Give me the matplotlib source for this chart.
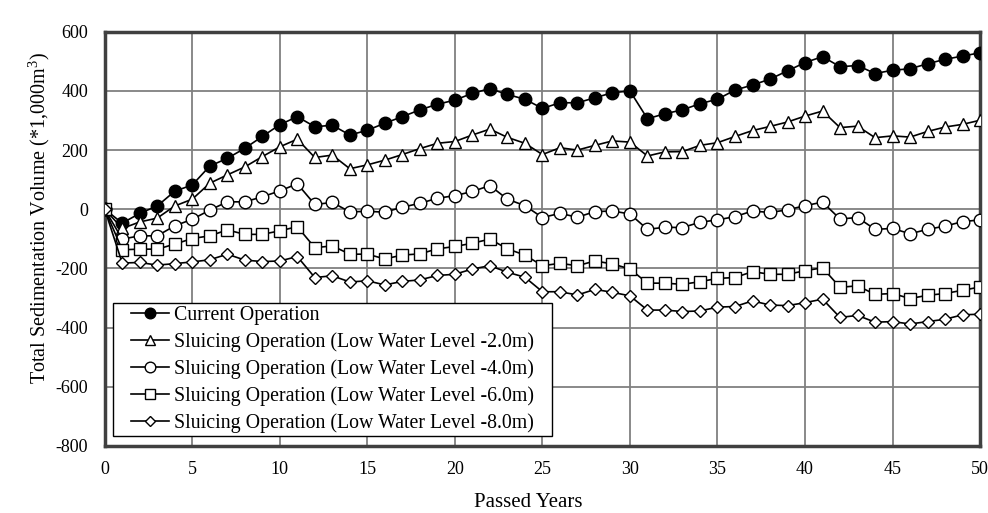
"""
Cumulative sedimentation volume, current vs. sluicing operations.
"""
import matplotlib
matplotlib.use("Agg")
import matplotlib.pyplot as plt
from matplotlib.patches import Rectangle

plt.rcParams["font.family"] = ["Liberation Serif", "DejaVu Serif"]
plt.rcParams["axes.unicode_minus"] = False
plt.rcParams["mathtext.fontset"] = "custom"
plt.rcParams["mathtext.rm"] = "Liberation Serif"

years = list(range(0, 51))

current = [0, -47, -14, 11, 61, 82, 146, 172, 206, 246, 286, 313, 279, 284, 251, 267,
           291, 313, 336, 355, 369, 392, 408, 388, 372, 341, 360, 360, 377, 394, 400,
           306, 323, 336, 357, 372, 403, 420, 440, 468, 496, 516, 482, 486, 459, 470,
           475, 492, 507, 518, 529]
lwl_2 = [0, -65, -43, -30, 11, 34, 88, 116, 143, 178, 211, 237, 175, 183, 137, 150,
         166, 185, 205, 223, 229, 251, 271, 243, 223, 185, 208, 200, 216, 231, 227,
         180, 194, 195, 216, 225, 246, 266, 280, 295, 315, 332, 276, 281, 242, 248,
         244, 263, 278, 287, 301]
lwl_4 = [0, -101, -90, -90, -56, -34, -3, 25, 25, 42, 62, 86, 16, 23, -9, -7,
         -10, 7, 20, 37, 46, 60, 80, 34, 12, -28, -14, -27, -8, -6, -16,
         -68, -61, -62, -44, -36, -25, -6, -11, -2, 12, 24, -33, -28, -68, -65,
         -83, -68, -57, -42, -36]
lwl_6 = [0, -137, -135, -135, -118, -99, -90, -70, -85, -85, -73, -59, -130, -124, -152, -152,
         -168, -155, -151, -134, -126, -115, -101, -134, -155, -191, -183, -191, -175, -185, -202,
         -250, -250, -254, -245, -234, -231, -211, -220, -220, -208, -198, -264, -259, -288, -285,
         -302, -291, -285, -274, -263]
lwl_8 = [0, -182, -180, -189, -184, -178, -171, -152, -172, -177, -175, -160, -231, -225, -246, -242,
         -256, -244, -239, -224, -220, -202, -191, -213, -230, -279, -279, -290, -271, -281, -293,
         -341, -341, -346, -344, -331, -329, -310, -324, -326, -316, -304, -366, -359, -382, -380,
         -388, -380, -372, -357, -355]

labels = ["Current Operation",
          "Sluicing Operation (Low Water Level -2.0m)",
          "Sluicing Operation (Low Water Level -4.0m)",
          "Sluicing Operation (Low Water Level -6.0m)",
          "Sluicing Operation (Low Water Level -8.0m)"]

fig = plt.figure(figsize=(9.88, 5.13), dpi=100)
ax = fig.add_axes([0.106, 0.131, 0.886, 0.807])

styles = [
    dict(marker="o", ms=9, mfc="black"),
    dict(marker="^", ms=8, mfc="white"),
    dict(marker="o", ms=9, mfc="white"),
    dict(marker="s", ms=8, mfc="white"),
    dict(marker="D", ms=6, mfc="white"),
]
for series, lab, st in zip([current, lwl_2, lwl_4, lwl_6, lwl_8], labels, styles):
    ax.plot(years, series, color="black", lw=1.2, mec="black", mew=1.0,
            label=lab, zorder=3, **st)

ax.set_xlim(0, 50)
ax.set_ylim(-800, 600)
ax.set_xticks(range(0, 51, 5))
ax.set_yticks(range(-800, 601, 200))
ax.tick_params(labelsize=13, length=0)
ax.tick_params(axis="y", pad=12)
ax.tick_params(axis="x", pad=11)
ax.grid(True, color="#808080", lw=1.3)
ax.set_axisbelow(True)
for sp in ax.spines.values():
    sp.set_color("#404040")
    sp.set_linewidth(2.5)

ax.set_xlabel("Passed Years", fontsize=15)
ax.xaxis.set_label_coords(0.484, -0.115)
ax.set_ylabel("Total Sedimentation Volume (*1,000m$^3$)", fontsize=14.5)
ax.yaxis.set_label_coords(-0.060, 0.55)

leg = ax.legend(loc="lower left", bbox_to_anchor=(0.027, 0.024), fontsize=14.3,
                frameon=False, handlelength=1.9, handletextpad=0.25,
                borderpad=0.15, labelspacing=0.36, borderaxespad=0,
                markerscale=0.85)
leg.set_zorder(6)

# legend frame with wider side padding than matplotlib allows
fig.canvas.draw()
bb = leg.get_window_extent().transformed(ax.transAxes.inverted())
padx = 15 / ax.bbox.width
frame = Rectangle((bb.x0 - padx, bb.y0), bb.width + 2 * padx, bb.height,
                  transform=ax.transAxes, facecolor="white", edgecolor="black",
                  lw=1.0, zorder=5, clip_on=False)
ax.add_patch(frame)

fig.savefig("out.png", dpi=100)
